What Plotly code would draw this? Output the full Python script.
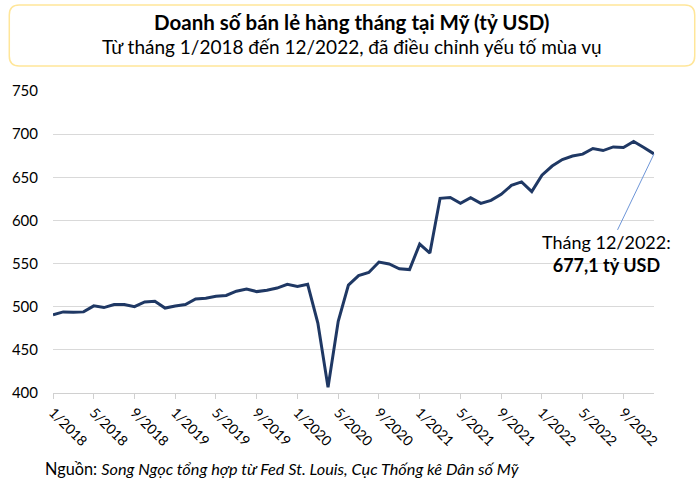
import plotly.graph_objects as go

# ---- data ----
months = [f"{m}/{y}" for y in range(2018, 2023) for m in range(1, 13)]
sales_2018 = [490.6, 494.0, 493.5, 494.0, 501.0, 499.0, 502.6, 502.6, 500.0, 505.6, 506.4, 498.4]
sales_2019 = [500.8, 502.5, 509.0, 509.8, 512.2, 513.0, 518.0, 520.6, 517.5, 519.0, 521.6, 526.0]
sales_2020 = [523.6, 526.0, 481.0, 406.5, 483.0, 525.0, 536.0, 539.6, 551.8, 549.5, 544.0, 543.0]
sales_2021 = [572.6, 562.2, 625.6, 626.5, 619.8, 626.4, 619.8, 623.2, 630.2, 640.6, 644.6, 633.4]
sales_2022 = [652.4, 663.0, 670.6, 674.6, 676.8, 683.4, 681.0, 685.2, 684.6, 691.4, 684.6, 677.1]
sales = sales_2018 + sales_2019 + sales_2020 + sales_2021 + sales_2022
tick_every = 4
tick_labels = months[::tick_every]
y_ticks = [400, 450, 500, 550, 600, 650, 700, 750]

title_text = "<b>Doanh số bán lẻ hàng tháng tại Mỹ (tỷ USD)</b>"
subtitle_text = "Từ tháng 1/2018 đến 12/2022, đã điều chỉnh yếu tố mùa vụ"
source_text = "Nguồn: <i>Song Ngọc tổng hợp từ Fed St. Louis, Cục Thống kê Dân số Mỹ</i>"
last_label = "Tháng 12/2022:<br><b>677,1 tỷ USD</b>"

# ---- layout geometry (pixels) ----
W, H = 700, 489
ML, MR, MT, MB = 49, 46, 91, 96
PW, PH = W - ML - MR, H - MT - MB

def px_x(x):
    return (x - ML) / PW

def px_y(y):
    return (H - MB - y) / PH

FONT = "Lato"
x_idx = list(range(len(months)))

fig = go.Figure()
fig.add_trace(go.Scatter(
    x=x_idx, y=sales, mode="lines",
    line=dict(color="#1F3864", width=3),
    hoverinfo="skip", showlegend=False,
))

# rounded title box
x0, x1, y0, y1, r = px_x(5), px_x(695), px_y(5), px_y(66), 10
rx, ry = r / PW, r / PH
path = (f"M {x0+rx},{y0} L {x1-rx},{y0} Q {x1},{y0} {x1},{y0-ry} "
        f"L {x1},{y1+ry} Q {x1},{y1} {x1-rx},{y1} L {x0+rx},{y1} "
        f"Q {x0},{y1} {x0},{y1+ry} L {x0},{y0-ry} Q {x0},{y0} {x0+rx},{y0} Z")
fig.add_shape(type="path", path=path, xref="paper", yref="paper",
              line=dict(color="#FFE699", width=1.5), fillcolor="rgba(0,0,0,0)", layer="below")

fig.add_annotation(text=title_text, xref="paper", yref="paper", x=px_x(350), y=px_y(22),
                   showarrow=False, xanchor="center", yanchor="middle",
                   font=dict(family=FONT, size=20.5, color="#000000"))
fig.add_annotation(text=subtitle_text, xref="paper", yref="paper", x=px_x(350), y=px_y(47),
                   showarrow=False, xanchor="center", yanchor="middle",
                   font=dict(family=FONT, size=19, color="#000000"))
fig.add_annotation(text=source_text, xref="paper", yref="paper", x=px_x(39), y=px_y(468),
                   showarrow=False, xanchor="left", yanchor="middle",
                   font=dict(family=FONT, size=16.3, color="#000000"))

# last point callout
fig.add_annotation(text=last_label, x=x_idx[-1], y=sales[-1], xref="x", yref="y",
                   showarrow=True, arrowhead=0, arrowwidth=1, arrowcolor="#6E96D8",
                   ax=-48, ay=100, align="center",
                   font=dict(family=FONT, size=18, color="#000000"))

fig.update_layout(
    width=W, height=H,
    margin=dict(l=ML, r=MR, t=MT, b=MB),
    paper_bgcolor="white", plot_bgcolor="white",
    font=dict(family=FONT, color="#000000"),
    xaxis=dict(
        range=[0, len(months) - 1],
        tickmode="array", tickvals=x_idx[::tick_every], ticktext=tick_labels,
        tickangle=45, ticks="outside", ticklen=5, tickcolor="#D0D0D0",
        showline=True, linecolor="#D0D0D0", linewidth=1,
        showgrid=False, zeroline=False,
        tickfont=dict(family=FONT, size=14, color="#000000"),
    ),
    yaxis=dict(
        range=[400, 750], tickvals=y_ticks,
        showgrid=True, gridcolor="#D9D9D9", gridwidth=1,
        zeroline=False, showline=False, ticks="",
        ticklabelstandoff=14,
        tickfont=dict(family=FONT, size=15, color="#000000"),
    ),
)

fig.write_html("out.html", config={"displayModeBar": False},
               post_script="document.body.style.margin='0';")
